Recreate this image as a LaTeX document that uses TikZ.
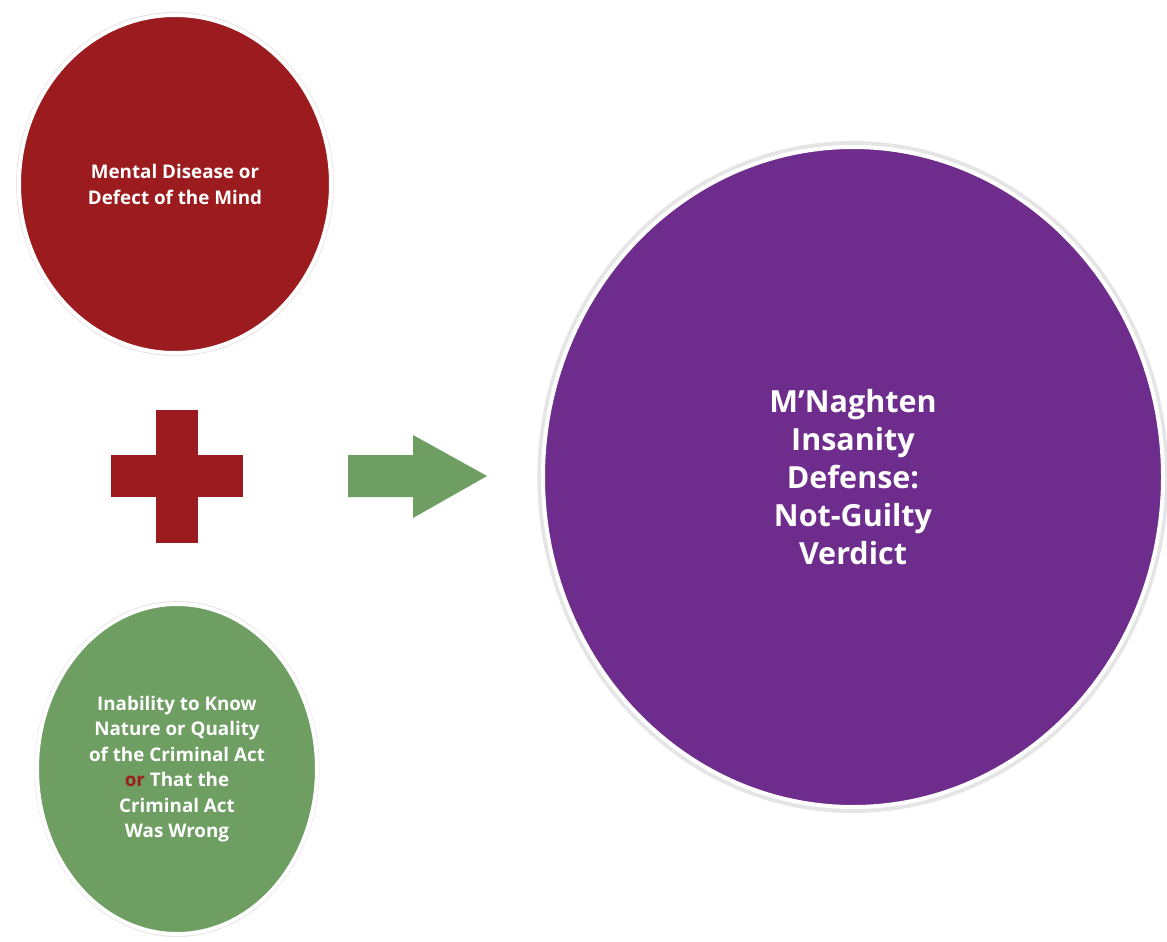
\documentclass[tikz,border=0pt]{standalone}
\usepackage{fontspec}
\setmainfont{Open Sans}
\usetikzlibrary{shapes.geometric, shadows, positioning}
\usepackage{xcolor}
\definecolor{darkred}{RGB}{155,27,30}
\definecolor{sagegreen}{RGB}{111,158,99}
\definecolor{royalpurple}{RGB}{110,44,140}
\tikzset{circlenode/.style={ellipse, draw=white, line width=4pt, inner sep=0pt, text=white, align=center,
general shadow={fill=black!45, shadow scale=1.018, opacity=0.22}},
redcirclenode/.style={circlenode, fill=darkred, minimum width=312pt, minimum height=338pt, font=\fontsize{18.8}{26}\selectfont\bfseries},
greencirclenode/.style={circlenode, fill=sagegreen, minimum width=280pt, minimum height=330pt, font=\fontsize{18.8}{25.5}\selectfont\bfseries},
purplecirclenode/.style={circlenode, fill=royalpurple, minimum width=620pt, minimum height=660pt, font=\fontsize{30.5}{38}\selectfont\bfseries}}

\begin{document}
\begin{tikzpicture}[x=1pt, y=-1pt]
                \useasboundingbox[fill=white] (0, 0) rectangle (1167, 942);

                % Circles
                \node[redcirclenode] (disease) at (175, 184) {Mental Disease or\\Defect of the Mind};
                \node[greencirclenode] (inability) at (177, 769) {Inability to Know\\Nature or Quality\\of the Criminal Act\\\textcolor{darkred}{or} That the\\Criminal Act\\Was Wrong};
                \node[purplecirclenode] (verdict) at (853, 477) {M’Naghten\\Insanity\\Defense:\\Not-Guilty\\Verdict};

                % Plus sign
                \fill[darkred] (156, 410) rectangle (198, 543);
                \fill[darkred] (111, 455) rectangle (243, 497);

                % Arrow
                \fill[sagegreen] (348, 455) -- (413, 455) -- (413, 435) -- (487, 476) -- (413, 518) -- (413, 497) -- (348, 497) -- cycle;
            \end{tikzpicture}
\end{document}
